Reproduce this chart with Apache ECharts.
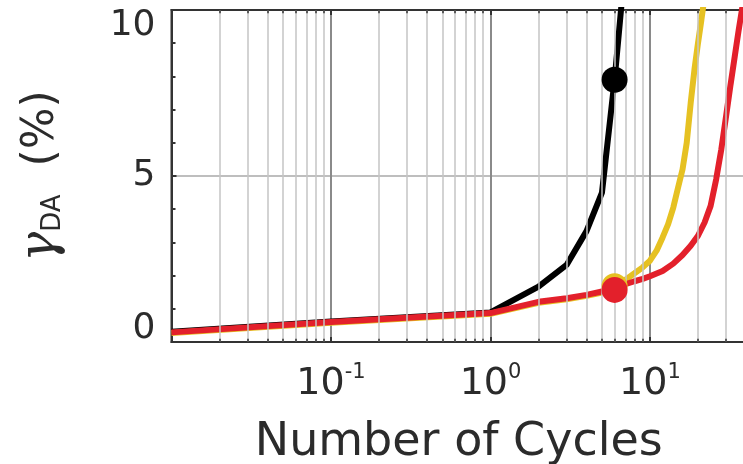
<!DOCTYPE html>
<html>
<head>
<meta charset="utf-8">
<script src="https://cdn.jsdelivr.net/npm/echarts@6/dist/echarts.min.js"></script>
<style>
  html, body { margin: 0; padding: 0; background: #ffffff; }
  #chart { width: 743px; height: 464px; }
</style>
</head>
<body>
<div id="chart"></div>
<script>
// Shear strain (%) versus number of loading cycles, three test series.
const blackCycles = [0.01, 0.1, 1, 2, 3, 4, 5, 6, 7];
const blackStrain = [0.31, 0.62, 0.89, 1.67, 2.32, 3.34, 4.5, 7.9, 11.4];

const yellowCycles = [0.01, 0.1, 1, 2, 3, 4, 5, 6, 7, 8, 9, 10, 11, 12, 13, 14, 15, 16, 17, 18, 19, 20, 21, 22];
const yellowStrain = [0.27, 0.58, 0.85, 1.18, 1.29, 1.39, 1.49, 1.68, 1.87, 2.07, 2.25, 2.45, 2.75, 3.15, 3.55, 4.05, 4.65, 5.2, 6.0, 7.2, 8.2, 9.0, 9.7, 10.4];

const redCycles = [0.01, 0.1, 1, 2, 3, 4, 5, 6, 7, 8, 9, 10, 12, 14, 16, 18, 20, 22, 24, 26, 28, 30, 32, 34, 36, 38, 40];
const redStrain = [0.29, 0.6, 0.87, 1.21, 1.32, 1.42, 1.52, 1.57, 1.74, 1.83, 1.9, 1.98, 2.14, 2.36, 2.62, 2.9, 3.2, 3.6, 4.1, 4.9, 5.8, 6.8, 7.75, 8.6, 9.4, 10.1, 10.8];

// cycle at which each series is marked with a dot
const dotCycle = 6;

// axis ranges and labels
const xMin = 0.01, xMax = 40;
const yMin = 0, yMax = 10, yStep = 5;
const decades = [0.01, 0.1, 1, 10];

const textColor = '#2b2b2b';
const axisColor = '#333333';

// minor log positions 2..9 within each decade
const minorCycles = [];
decades.forEach(d => {
  for (let k = 2; k <= 9; k++) {
    const v = +(k * d).toPrecision(3);
    if (v < xMax) minorCycles.push(v);
  }
});

const zip = (xs, ys) => xs.map((x, i) => [x, ys[i]]);
const dotAt = (xs, ys) => [[dotCycle, ys[xs.indexOf(dotCycle)]]];

const minorGrid = minorCycles.map(v => ({ xAxis: v }));
const tickLen = 0.1;
const minorTicks = [];
minorCycles.forEach(v => {
  minorTicks.push([{ coord: [v, yMin] }, { coord: [v, yMin + tickLen] }]);
  minorTicks.push([{ coord: [v, yMax] }, { coord: [v, yMax - tickLen] }]);
});

const isDecade = v => Math.abs(Math.log10(v) - Math.round(Math.log10(v))) < 1e-6;

const chart = echarts.init(document.getElementById('chart'), null, { renderer: 'canvas' });

chart.setOption({
  animation: false,
  backgroundColor: '#ffffff',
  grid: {
    left: 171.5, right: -3, top: 10, bottom: 122,
    outerBoundsMode: 'none', containLabel: false,
    show: true, borderColor: axisColor, borderWidth: 2, backgroundColor: 'transparent'
  },
  xAxis: [{
    type: 'log', logBase: 10, min: xMin, max: xMax,
    position: 'bottom',
    name: 'Number of Cycles', nameLocation: 'middle', nameGap: 78,
    nameTextStyle: { fontFamily: 'DejaVu Sans', fontSize: 46, color: textColor },
    axisLine: { show: true, lineStyle: { color: axisColor, width: 2 } },
    axisTick: { show: true, inside: true, length: 5, lineStyle: { color: axisColor, width: 2 } },
    splitLine: { show: true, lineStyle: { color: '#8a8a8a', width: 2 } },
    axisLabel: {
      margin: 20, showMinLabel: false,
      formatter: v => {
        if (!isDecade(v)) return '';
        const e = Math.round(Math.log10(v));
        return '{b|10}{s|' + (e < 0 ? '-' + (-e) : e) + '}';
      },
      rich: {
        b: { fontFamily: 'DejaVu Sans', fontSize: 38, color: textColor },
        s: { fontFamily: 'DejaVu Sans', fontSize: 21, color: textColor, verticalAlign: 'top', lineHeight: 44 }
      }
    }
  }, {
    type: 'log', logBase: 10, min: xMin, max: xMax,
    position: 'top',
    axisLine: { show: true, lineStyle: { color: axisColor, width: 2 } },
    axisTick: { show: true, inside: true, length: 5, lineStyle: { color: axisColor, width: 2 } },
    axisLabel: { show: false },
    splitLine: { show: false }
  }],
  yAxis: {
    type: 'value', min: yMin, max: yMax, interval: yStep,
    name: '{g|γ}{s|DA}{p|  (%)}', nameLocation: 'middle', nameGap: 105, nameRotate: 90,
    nameTextStyle: {
      rich: {
        g: { fontFamily: 'DejaVu Serif', fontStyle: 'italic', fontSize: 50, color: textColor },
        s: { fontFamily: 'DejaVu Sans', fontSize: 26, color: textColor, verticalAlign: 'bottom', padding: [18, 0, 0, 0] },
        p: { fontFamily: 'DejaVu Sans', fontSize: 44, color: textColor }
      }
    },
    axisLine: { show: true, lineStyle: { color: axisColor, width: 2 } },
    axisTick: { show: true, inside: true, length: 5, lineStyle: { color: axisColor, width: 2 } },
    minorTick: { show: true, splitNumber: 5, length: 4, lineStyle: { color: axisColor, width: 2 } },
    splitLine: { show: true, lineStyle: { color: '#a8a8a8', width: 1.5 } },
    axisLabel: {
      margin: 16,
      formatter: v => v === yMax ? '{t|' + v + '}' : (v === yMin ? '{o|' + v + '}' : '{m|' + v + '}'),
      rich: {
        t: { fontFamily: 'DejaVu Sans', fontSize: 36, color: textColor, padding: [31, 0, 0, 0] },
        m: { fontFamily: 'DejaVu Sans', fontSize: 36, color: textColor },
        o: { fontFamily: 'DejaVu Sans', fontSize: 36, color: textColor, padding: [0, 0, 27, 0] }
      }
    }
  },
  series: [
    {
      name: 'guides', type: 'line', data: [], silent: true, z: 1,
      markLine: {
        silent: true, symbol: ['none', 'none'], label: { show: false },
        lineStyle: { color: '#c4c4c4', width: 1.5, type: 'solid' },
        emphasis: { disabled: true },
        data: minorGrid
      }
    },
    {
      name: 'ticks', type: 'line', data: [], silent: true, z: 6,
      markLine: {
        silent: true, symbol: ['none', 'none'], label: { show: false },
        lineStyle: { color: axisColor, width: 1.5, type: 'solid' },
        emphasis: { disabled: true },
        data: minorTicks
      }
    },
    {
      name: 'black', type: 'line', data: zip(blackCycles, blackStrain), z: 2,
      symbol: 'none', clip: true,
      lineStyle: { color: '#000000', width: 6 }
    },
    {
      name: 'yellow', type: 'line', data: zip(yellowCycles, yellowStrain), z: 3,
      symbol: 'none', clip: true,
      lineStyle: { color: '#e6c122', width: 6 }
    },
    {
      name: 'red', type: 'line', data: zip(redCycles, redStrain), z: 4,
      symbol: 'none', clip: true,
      lineStyle: { color: '#e3202b', width: 6 }
    },
    {
      name: 'black dot', type: 'scatter', data: dotAt(blackCycles, blackStrain), z: 5,
      symbol: 'circle', symbolSize: 26, itemStyle: { color: '#000000', opacity: 1 }
    },
    {
      name: 'yellow dot', type: 'scatter', data: dotAt(yellowCycles, yellowStrain), z: 5,
      symbol: 'circle', symbolSize: 26, itemStyle: { color: '#e6c122', opacity: 1 }
    },
    {
      name: 'red dot', type: 'scatter', data: dotAt(redCycles, redStrain), z: 5,
      symbol: 'circle', symbolSize: 26, itemStyle: { color: '#e3202b', opacity: 1 }
    }
  ]
});
</script>
</body>
</html>
